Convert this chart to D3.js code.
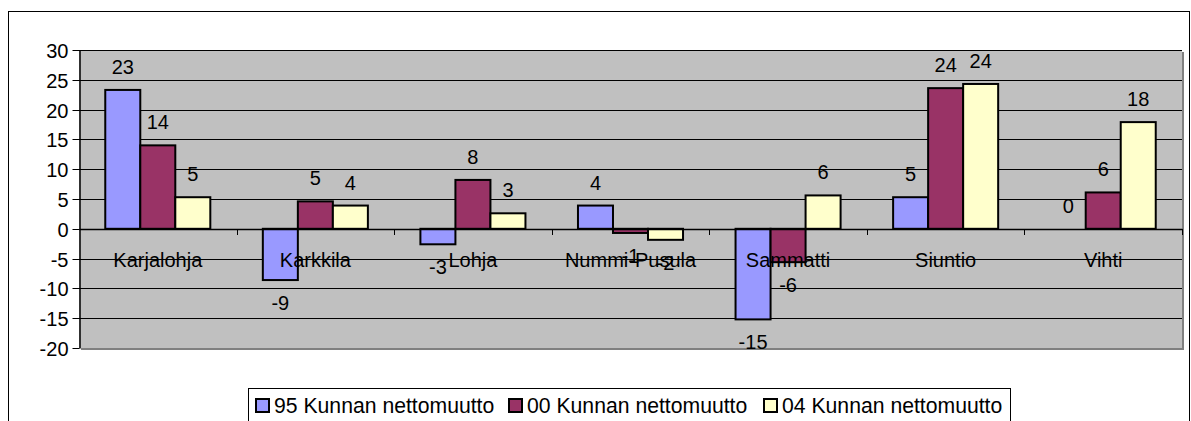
<!DOCTYPE html>
<html><head><meta charset="utf-8">
<script src="https://cdn.jsdelivr.net/npm/d3@7"></script>
<style>
html,body{margin:0;padding:0;background:#fff;}
svg{display:block;}
text{font-family:"Liberation Sans",Arial,sans-serif;fill:#000;}
</style></head>
<body>
<svg id="c" width="1191" height="421"></svg>
<script>
const categories = ["Karjalohja","Karkkila","Lohja","Nummi-Pusula","Sammatti","Siuntio","Vihti"];
const seriesNames = ["95 Kunnan nettomuutto","00 Kunnan nettomuutto","04 Kunnan nettomuutto"];
const values95 = [23.3, -8.6, -2.6, 3.9, -15.2, 5.3, 0];
const values00 = [14.0, 4.6, 8.2, -0.7, -5.6, 23.6, 6.1];
const values04 = [5.3, 3.9, 2.6, -1.85, 5.6, 24.3, 17.9];
const yTicks = [30,25,20,15,10,5,0,-5,-10,-15,-20];
const colors = ["#9999FF","#993366","#FFFFCC"];

const allSeries = [values95, values00, values04];
const svg = d3.select("#c");
const FS = 20;

// outer chart border
svg.append("rect").attr("x",8.5).attr("y",11.5).attr("width",1181).attr("height",420)
  .attr("fill","#fff").attr("stroke","#000").attr("stroke-width",1);

const L = 79, R = 1182, T = 50, B = 348;
const y = d3.scaleLinear().domain([-20,30]).range([B,T]);
const x0 = d3.scaleBand().domain(categories).range([L,R]).padding(0);
const bw = x0.bandwidth()/4.5;
const x1 = d3.scaleBand().domain([0,1,2]).range([0.75*bw, 3.75*bw]).padding(0);

// plot area with shadow
svg.append("rect").attr("x",L+2).attr("y",T+2).attr("width",R-L).attr("height",B-T).attr("fill","#808080");
svg.append("rect").attr("x",L).attr("y",T).attr("width",R-L).attr("height",B-T).attr("fill","#C0C0C0");

// gridlines
svg.append("g").selectAll("line").data(yTicks.filter(d=>d!==-20 && d!==0)).join("line")
  .attr("x1",L).attr("x2",R).attr("y1",d=>Math.round(y(d))+0.5).attr("y2",d=>Math.round(y(d))+0.5)
  .attr("stroke","#000").attr("stroke-width",1);

// y axis
const yAxis = d3.axisLeft(y).tickValues(yTicks).tickSize(7).tickSizeOuter(0).tickFormat(d=>String(d));
const gy = svg.append("g").attr("transform",`translate(${L+0.5},0)`).call(yAxis);
gy.select(".domain").attr("stroke","#000").attr("stroke-width",1.5);
gy.selectAll(".tick line").attr("stroke","#000");
gy.selectAll(".tick text").attr("font-size",FS).attr("x",-11).attr("dy","0.35em")
  .style("font-family","'Liberation Sans',Arial,sans-serif").attr("fill","#000");
gy.selectAll(".tick").attr("transform",d=>`translate(0,${Math.round(y(d))+0.5})`);

// bars
const groups = svg.append("g").selectAll("g").data(categories).join("g")
  .attr("transform",c=>`translate(${x0(c)},0)`);
groups.selectAll("rect").data((c,i)=>allSeries.map((s,k)=>({k, v:s[i]}))).join("rect")
  .attr("x",d=>x1(d.k)).attr("width",x1.bandwidth())
  .attr("y",d=>y(Math.max(0,d.v))).attr("height",d=>Math.abs(y(d.v)-y(0)))
  .attr("fill",d=>colors[d.k]).attr("stroke","#000").attr("stroke-width",2);

// category axis
const xAxis = d3.axisBottom(x0).tickSize(0).tickSizeOuter(0);
const gx = svg.append("g").attr("transform",`translate(0,${Math.round(y(0))})`).call(xAxis);
gx.select(".domain").attr("stroke","#000").attr("stroke-width",1.5);
gx.selectAll(".tick text").attr("font-size",FS).attr("y",31).attr("dy","0.35em")
  .style("font-family","'Liberation Sans',Arial,sans-serif").attr("fill","#000");
// boundary tick marks
const bounds = categories.map(c=>x0(c)).slice(1).concat([R]);
gx.append("g").selectAll("line").data(bounds).join("line")
  .attr("x1",d=>Math.round(d)+0.5).attr("x2",d=>Math.round(d)+0.5).attr("y1",0).attr("y2",6)
  .attr("stroke","#000").attr("stroke-width",1);

// data labels
groups.selectAll("text.lbl").data((c,i)=>allSeries.map((s,k)=>({k, v:s[i]}))).join("text")
  .attr("class","lbl")
  .attr("x",d=>x1(d.k)+x1.bandwidth()/2)
  .attr("y",d=> d.v>=0 ? y(d.v)-23 : y(d.v)+23)
  .attr("dy","0.35em").attr("text-anchor","middle").attr("font-size",FS)
  .text(d=>String(Math.round(d.v)));

// legend
const lg = svg.append("g");
lg.append("rect").attr("x",248.5).attr("y",388.5).attr("width",762).attr("height",40)
  .attr("fill","#fff").attr("stroke","#000").attr("stroke-width",1);
const lx = [255, 508, 763];
const items = lg.selectAll("g").data(seriesNames).join("g")
  .attr("transform",(d,i)=>`translate(${lx[i]},398)`);
items.append("rect").attr("x",1).attr("y",1).attr("width",13).attr("height",13)
  .attr("fill",(d,i)=>colors[i]).attr("stroke","#000").attr("stroke-width",2);
items.append("text").attr("x",19).attr("y",7.5).attr("dy","0.35em").attr("font-size",21.2).text(d=>d);
</script>
</body></html>
